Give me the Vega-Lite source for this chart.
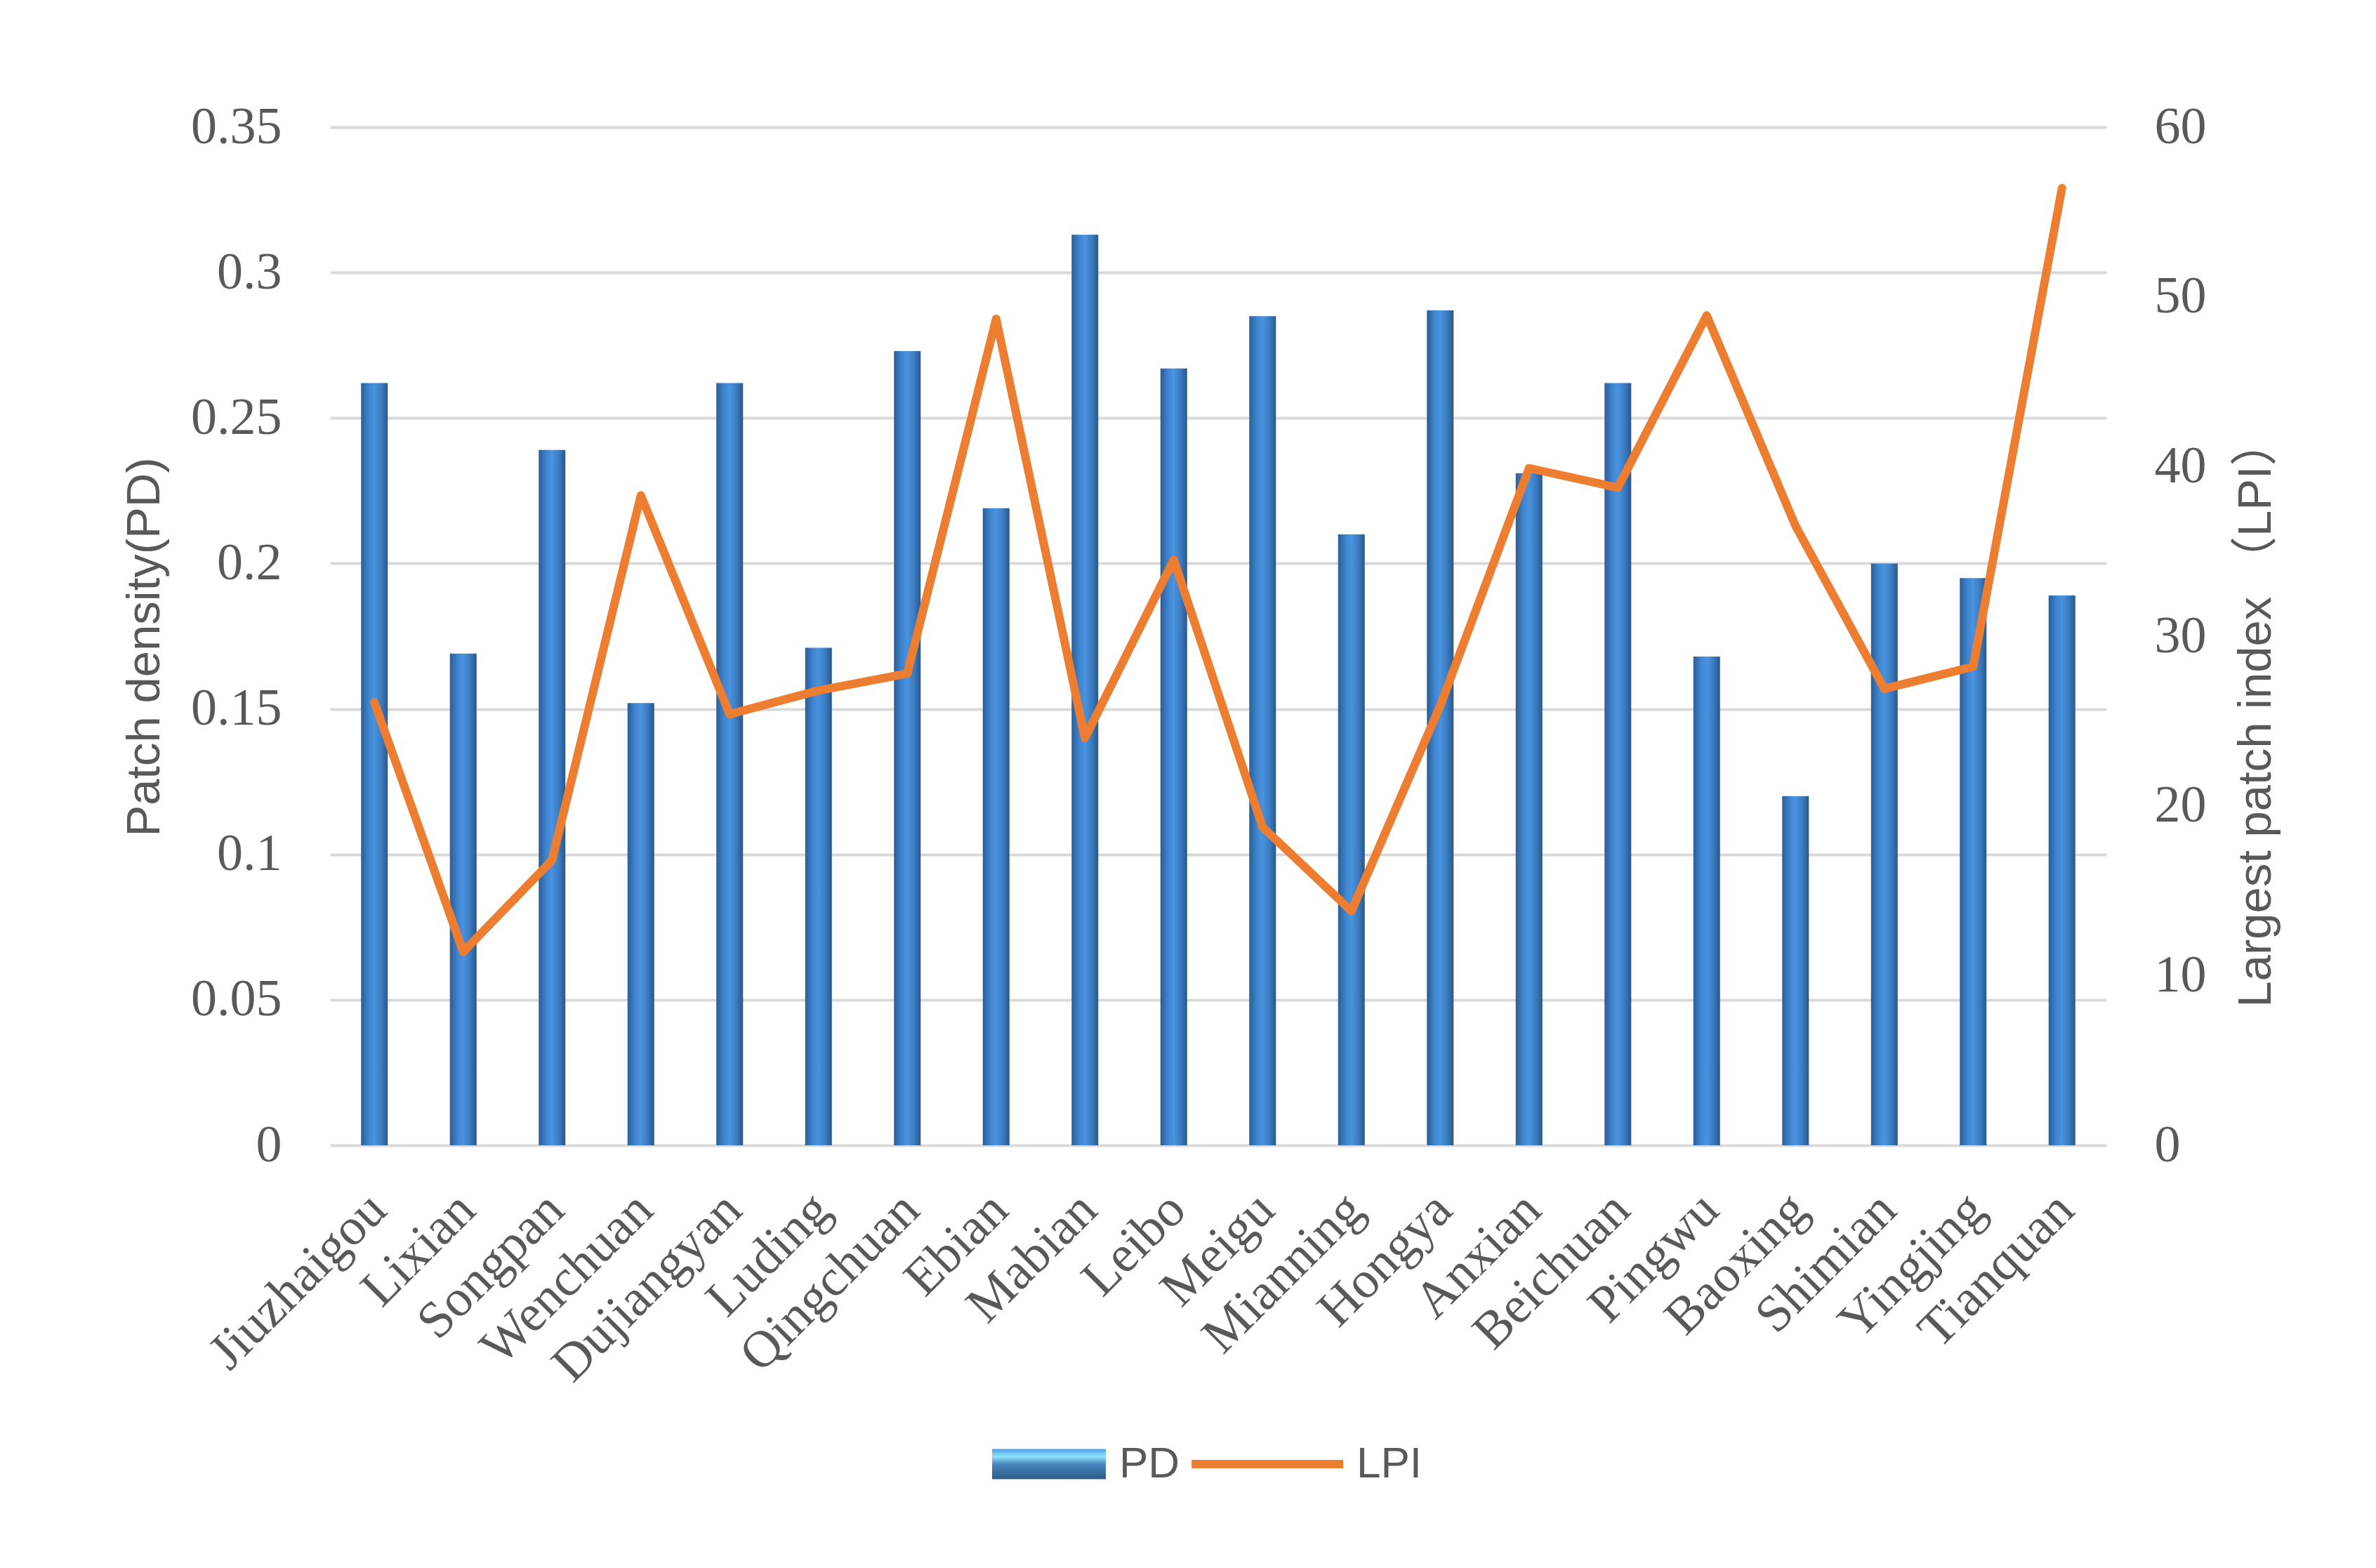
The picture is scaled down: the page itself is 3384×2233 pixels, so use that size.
{
  "$schema": "https://vega.github.io/schema/vega-lite/v6.json",
  "autosize": {"type": "none"},
  "width": 2530,
  "height": 1450,
  "padding": {"left": 470, "top": 181, "right": 384, "bottom": 602},
  "background": "#ffffff",
  "config": {"view": {"stroke": null}},
  "data": {
    "values": [
      {"county": "Jiuzhaigou", "PD": 0.262, "LPI": 26.1},
      {"county": "Lixian", "PD": 0.169, "LPI": 11.4},
      {"county": "Songpan", "PD": 0.239, "LPI": 16.8},
      {"county": "Wenchuan", "PD": 0.152, "LPI": 38.3},
      {"county": "Dujiangyan", "PD": 0.262, "LPI": 25.4},
      {"county": "Luding", "PD": 0.171, "LPI": 26.8},
      {"county": "Qingchuan", "PD": 0.273, "LPI": 27.8},
      {"county": "Ebian", "PD": 0.219, "LPI": 48.7},
      {"county": "Mabian", "PD": 0.313, "LPI": 24.0},
      {"county": "Leibo", "PD": 0.267, "LPI": 34.5},
      {"county": "Meigu", "PD": 0.285, "LPI": 18.75},
      {"county": "Mianning", "PD": 0.210, "LPI": 13.8},
      {"county": "Hongya", "PD": 0.287, "LPI": 25.9},
      {"county": "Anxian", "PD": 0.231, "LPI": 39.9},
      {"county": "Beichuan", "PD": 0.262, "LPI": 38.75},
      {"county": "Pingwu", "PD": 0.168, "LPI": 48.9},
      {"county": "Baoxing", "PD": 0.120, "LPI": 36.5},
      {"county": "Shimian", "PD": 0.200, "LPI": 26.9},
      {"county": "Yingjing", "PD": 0.195, "LPI": 28.2},
      {"county": "Tianquan", "PD": 0.189, "LPI": 56.4}
    ]
  },
  "encoding": {
    "x": {
      "field": "county",
      "type": "nominal",
      "sort": null,
      "scale": {"paddingInner": 0, "paddingOuter": 0},
      "axis": {
        "title": null,
        "labelAngle": -45,
        "labelAlign": "right",
        "labelBaseline": "middle",
        "labelFont": "Liberation Serif",
        "labelFontSize": 74,
        "labelColor": "#595959",
        "labelLimit": 0,
        "labelPadding": 80,
        "labelOffset": 5,
        "labelOverlap": false,
        "ticks": false,
        "tickSize": 0,
        "domain": false,
        "grid": false
      }
    }
  },
  "layer": [
    {
      "mark": {
        "type": "bar",
        "size": 38,
        "color": {
          "gradient": "linear",
          "x1": 0, "y1": 0, "x2": 1, "y2": 0,
          "stops": [
            {"offset": 0, "color": "#2c5d93"},
            {"offset": 0.3, "color": "#3f86d2"},
            {"offset": 0.5, "color": "#4a93de"},
            {"offset": 0.75, "color": "#3b7cc4"},
            {"offset": 1, "color": "#2a5789"}
          ]
        }
      },
      "encoding": {
        "y": {
          "field": "PD",
          "type": "quantitative",
          "scale": {"domain": [0, 0.35], "nice": false, "zero": true},
          "axis": {
            "orient": "left",
            "title": "Patch density(PD)",
            "values": [0, 0.05, 0.1, 0.15, 0.2, 0.25, 0.3, 0.35],
            "format": "~g",
            "grid": true,
            "gridColor": "#d9d9d9",
            "gridWidth": 4,
            "domain": false,
            "ticks": false,
            "tickSize": 0,
            "labelFont": "Liberation Serif",
            "labelFontSize": 74,
            "labelColor": "#595959",
            "labelPadding": 69,
            "titleFont": "Liberation Sans",
            "titleFontSize": 67,
            "titleFontWeight": "normal",
            "titleColor": "#595959",
            "titleAngle": -90,
            "titleAlign": "center",
            "titleBaseline": "bottom",
            "titleX": -230,
            "titleY": 740
          }
        }
      }
    },
    {
      "mark": {"type": "line", "strokeWidth": 12, "strokeJoin": "round", "strokeCap": "round"},
      "encoding": {
        "y": {
          "field": "LPI",
          "type": "quantitative",
          "scale": {"domain": [0, 60], "nice": false, "zero": true},
          "axis": {
            "orient": "right",
            "title": "Largest patch index （LPI）",
            "values": [0, 10, 20, 30, 40, 50, 60],
            "grid": false,
            "domain": false,
            "ticks": false,
            "tickSize": 0,
            "labelFont": "Liberation Serif",
            "labelFontSize": 74,
            "labelColor": "#595959",
            "labelPadding": 68,
            "titleFont": "Liberation Sans, Noto Sans CJK SC",
            "titleFontSize": 67,
            "titleFontWeight": "normal",
            "titleColor": "#595959",
            "titleAngle": -90,
            "titleAlign": "center",
            "titleBaseline": "bottom",
            "titleX": 247,
            "titleY": 834
          }
        },
        "color": {
          "datum": "LPI",
          "type": "nominal",
          "scale": {"domain": ["PD", "LPI"], "range": ["#3c7fc4", "#ED7D31"]},
          "legend": {
            "orient": "none",
            "legendX": 966,
            "legendY": 1873,
            "direction": "horizontal",
            "title": null,
            "symbolType": "stroke",
            "symbolStrokeWidth": 12,
            "symbolSize": 46656,
            "labelFont": "Liberation Sans",
            "labelFontSize": 62,
            "labelColor": "#595959",
            "labelOffset": 96,
            "columnPadding": -8,
            "encode": {
              "symbols": {
                "update": {
                  "shape": {"signal": "datum.value === 'PD' ? 'M-0.5,-0.2H1V0.2H-0.5Z' : 'stroke'"},
                  "size": {"value": 46656},
                  "fill": {"signal": "datum.value === 'PD' ? {gradient: 'linear', x1: 0, y1: 0, x2: 0, y2: 1, stops: [{offset: 0, color: '#4b9be8'}, {offset: 0.25, color: '#8ee6fb'}, {offset: 0.5, color: '#4a85c0'}, {offset: 1, color: '#2c5a87'}]} : 'transparent'"},
                  "stroke": {"signal": "datum.value === 'PD' ? 'transparent' : '#ED7D31'"},
                  "strokeWidth": {"signal": "datum.value === 'PD' ? 0 : 12"}
                }
              }
            }
          }
        }
      }
    }
  ],
  "resolve": {"scale": {"y": "independent"}}
}
